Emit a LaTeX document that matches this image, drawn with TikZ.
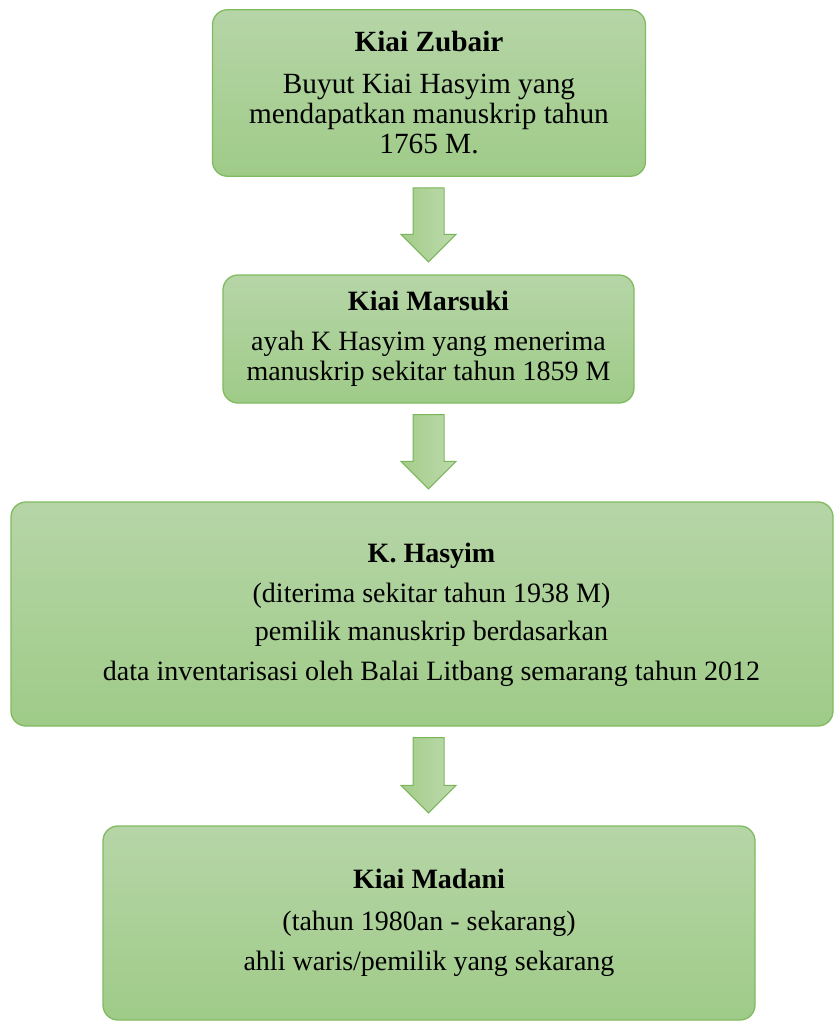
\documentclass[tikz,border=0pt]{standalone}
\usepackage{fontspec}
\setmainfont{Liberation Serif}
\usetikzlibrary{calc}

\definecolor{boxtop}{RGB}{182,213,167}
\definecolor{boxbottom}{RGB}{159,203,136}
\definecolor{boxline}{RGB}{128,187,96}
\definecolor{arrowleft}{RGB}{164,204,138}
\definecolor{arrowright}{RGB}{188,218,172}
\definecolor{arrowline}{RGB}{122,181,90}

\tikzset{
  stage/.style={rectangle, rounded corners=15pt, draw=boxline, line width=1.3pt,
    top color=boxtop, bottom color=boxbottom, align=center, inner sep=0pt,
    font=\fontsize{28}{30}\selectfont},
  stagetext/.style={align=center, inner sep=0pt, font=\fontsize{28}{30}\selectfont},
  blockarrow/.style={draw=arrowline, line width=1pt, line join=miter,
    left color=arrowleft, right color=arrowright}
}

% block arrow between two stages, on the spine
\newcommand{\flowarrow}[2]{%
  \path[blockarrow]
    ($(spine |- #1.south)+(-15.5,11)$) -- ($(spine |- #1.south)+(15.5,11)$)
    -- ($(spine |- #2.north)+(15.5,-40)$) -- ($(spine |- #2.north)+(27.5,-40)$)
    -- ($(spine |- #2.north)+(0,-12.5)$) -- ($(spine |- #2.north)+(-27.5,-40)$)
    -- ($(spine |- #2.north)+(-15.5,-40)$) -- cycle;}

\begin{document}
\begin{tikzpicture}[x=1pt, y=-1pt]
  \useasboundingbox (0,0) rectangle (834,1021);
  \coordinate (spine) at (428.5,0);

  \node[stage, minimum width=433pt, minimum height=166.5pt, font=\fontsize{29.3}{30}\selectfont] (zubair) at (429,93)
    {\textbf{Kiai Zubair}\\[12pt] Buyut Kiai Hasyim yang\\ mendapatkan manuskrip tahun\\ 1765 M.};
  \node[stage, minimum width=411pt, minimum height=128pt] (marsuki) at (428.5,339)
    {\textbf{Kiai Marsuki}\\[10pt] ayah K Hasyim yang menerima\\ manuskrip sekitar tahun 1859 M};
  \node[stage, minimum width=822pt, minimum height=224pt] (hasyim) at (422,614) {};
  \node[stagetext] (hasyimtext) at (431.5,614.5)
    {\textbf{K. Hasyim}\\[10pt] (diterima sekitar tahun 1938 M)\\[8pt] pemilik manuskrip berdasarkan\\[10pt]
     data inventarisasi oleh Balai Litbang semarang tahun 2012};
  \node[stage, minimum width=652pt, minimum height=194pt] (madani) at (429,923)
    {\textbf{Kiai Madani}\\[12pt] (tahun 1980an - sekarang)\\[10pt] ahli waris/pemilik yang sekarang};

  \flowarrow{zubair}{marsuki}
  \flowarrow{marsuki}{hasyim}
  \flowarrow{hasyim}{madani}
\end{tikzpicture}
\end{document}
